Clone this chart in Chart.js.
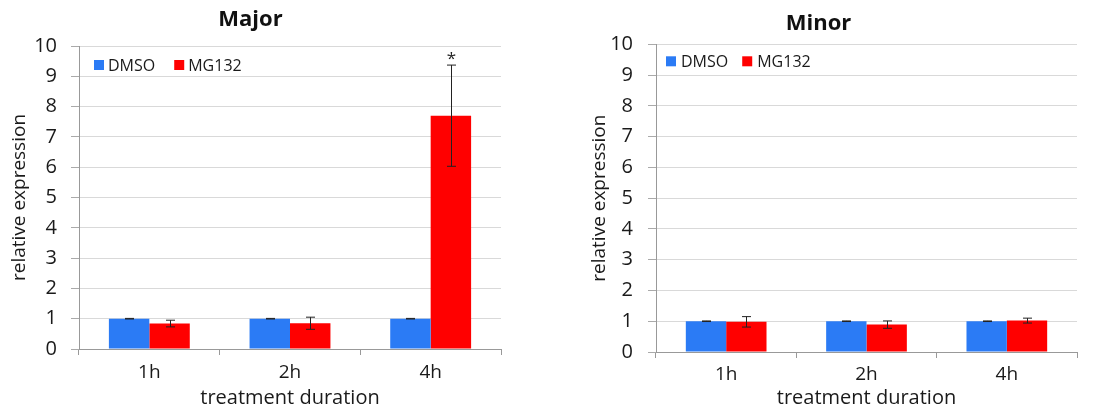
<!DOCTYPE html>
<html>
<head>
<meta charset="utf-8">
<script src="https://cdn.jsdelivr.net/npm/chart.js@4"></script>
<style>
  html, body { margin: 0; padding: 0; background: #fff; }
  .wrap { position: absolute; top: 0; height: 410px; }
  #majorWrap { left: 0; width: 560px; }
  #minorWrap { left: 560px; width: 552px; }
</style>
</head>
<body>
<div class="wrap" id="majorWrap"><canvas id="major"></canvas></div>
<div class="wrap" id="minorWrap"><canvas id="minor"></canvas></div>
<script>
const categories = ['1h', '2h', '4h'];
const seriesNames = ['DMSO', 'MG132'];
const yTicks = [0, 1, 2, 3, 4, 5, 6, 7, 8, 9, 10];

const majorDmso = [1, 1, 1];
const majorDmsoErr = [0.01, 0.01, 0.01];
const majorMg = [0.84, 0.85, 7.7];
const majorMgErr = [0.11, 0.2, 1.67];
const majorMgSig = ['', '', '*'];

const minorDmso = [1, 1, 1];
const minorDmsoErr = [0.01, 0.01, 0.01];
const minorMg = [0.98, 0.89, 1.02];
const minorMgErr = [0.17, 0.12, 0.08];
const minorMgSig = ['', '', ''];

const BLUE = '#2b7bf5';
const RED = '#ff0000';
const FONT = "'Open Sans', sans-serif";

// error bars + significance marks
const errorBars = {
  id: 'errorBars',
  afterDatasetsDraw(chart) {
    const ctx = chart.ctx;
    const y = chart.scales.y;
    ctx.save();
    ctx.strokeStyle = '#222';
    ctx.lineWidth = 1;
    chart.data.datasets.forEach((ds, i) => {
      const meta = chart.getDatasetMeta(i);
      meta.data.forEach((bar, j) => {
        const v = ds.data[j], e = ds.errors[j];
        const yt = y.getPixelForValue(v + e);
        const yb = y.getPixelForValue(v - e);
        const x = Math.round(bar.x) + 0.5;
        ctx.beginPath();
        ctx.moveTo(x, yt); ctx.lineTo(x, yb);
        ctx.moveTo(x - 4.5, yt); ctx.lineTo(x + 4.5, yt);
        ctx.moveTo(x - 4.5, yb); ctx.lineTo(x + 4.5, yb);
        ctx.stroke();
        if (ds.sig && ds.sig[j]) {
          ctx.fillStyle = '#222';
          ctx.font = '17px ' + FONT;
          ctx.textAlign = 'center';
          ctx.textBaseline = 'alphabetic';
          ctx.fillText(ds.sig[j], x, yt - 1);
        }
      });
    });
    ctx.restore();
  }
};

// legend drawn inside the plot area, top-left
const innerLegend = {
  id: 'innerLegend',
  afterDraw(chart, args, opts) {
    const ctx = chart.ctx;
    const area = chart.chartArea;
    let x = area.left + opts.x;
    const cy = area.top + opts.y;
    ctx.save();
    ctx.font = '16px ' + FONT;
    ctx.textBaseline = 'middle';
    ctx.textAlign = 'left';
    chart.data.datasets.forEach(ds => {
      ctx.fillStyle = ds.backgroundColor;
      ctx.fillRect(x, cy - 5, 10, 10);
      ctx.fillStyle = '#1a1a1a';
      ctx.fillText(ds.label, x + opts.textGap, cy + 1);
      x += opts.textGap + ctx.measureText(ds.label).width + opts.itemGap;
    });
    ctx.restore();
  }
};

function makeChart(id, title, dmso, dmsoErr, mg, mgErr, mgSig, geo) {
  return new Chart(document.getElementById(id), {
    type: 'bar',
    data: {
      labels: categories,
      datasets: [
        { label: seriesNames[0], data: dmso, errors: dmsoErr, backgroundColor: BLUE },
        { label: seriesNames[1], data: mg, errors: mgErr, sig: mgSig, backgroundColor: RED }
      ]
    },
    plugins: [errorBars, innerLegend],
    options: {
      responsive: true,
      maintainAspectRatio: false,
      animation: false,
      layout: { padding: { left: 0, right: geo.padRight, top: 0, bottom: 0 } },
      datasets: { bar: { categoryPercentage: 0.575, barPercentage: 1 } },
      plugins: {
        legend: { display: false },
        tooltip: { enabled: false },
        title: {
          display: true,
          text: title,
          color: '#111',
          font: { family: FONT, size: 22, weight: 'bold', lineHeight: 1.2 },
          padding: { top: geo.titleTop, bottom: geo.titleBottom }
        },
        innerLegend: geo.legend
      },
      scales: {
        x: {
          afterFit: s => { s.height = geo.xHeight; },
          grid: { offset: true, drawOnChartArea: false, drawTicks: true, tickLength: 6, color: '#999' },
          border: { color: '#999' },
          ticks: { color: '#1a1a1a', font: { family: FONT, size: 19 }, padding: geo.xPad },
          title: {
            display: true,
            text: 'treatment duration',
            color: '#1a1a1a',
            font: { family: FONT, size: 20, lineHeight: 1.2 },
            padding: { top: 0, bottom: geo.xTitleBottom }
          }
        },
        y: {
          min: 0,
          max: 10,
          afterFit: s => { s.width = geo.yWidth; },
          afterBuildTicks: s => { s.ticks = yTicks.map(v => ({ value: v })); },
          grid: { color: '#d9d9d9', tickLength: 8, tickColor: '#aaa' },
          border: { color: '#999' },
          ticks: { color: '#1a1a1a', font: { family: FONT, size: 20 }, padding: geo.yPad },
          title: {
            display: true,
            text: 'relative expression',
            color: '#1a1a1a',
            font: { family: FONT, size: 19, lineHeight: 1.2 },
            padding: { top: geo.yTitleLeft, bottom: 0 }
          }
        }
      }
    }
  });
}

makeChart('major', 'Major', majorDmso, majorDmsoErr, majorMg, majorMgErr, majorMgSig, {
  padRight: 59, titleTop: 6.5, titleBottom: 13.1, xHeight: 61, xPad: 6, xTitleBottom: 0,
  yWidth: 79, yPad: 14, yTitleLeft: 8.6,
  legend: { x: 15, y: 19, textGap: 14, itemGap: 19 }
});

makeChart('minor', 'Minor', minorDmso, minorDmsoErr, minorMg, minorMgErr, minorMgSig, {
  padRight: 35, titleTop: 10.5, titleBottom: 7.4, xHeight: 58, xPad: 5, xTitleBottom: 0,
  yWidth: 96, yPad: 15, yTitleLeft: 28,
  legend: { x: 10, y: 17, textGap: 15, itemGap: 14 }
});
</script>
</body>
</html>
